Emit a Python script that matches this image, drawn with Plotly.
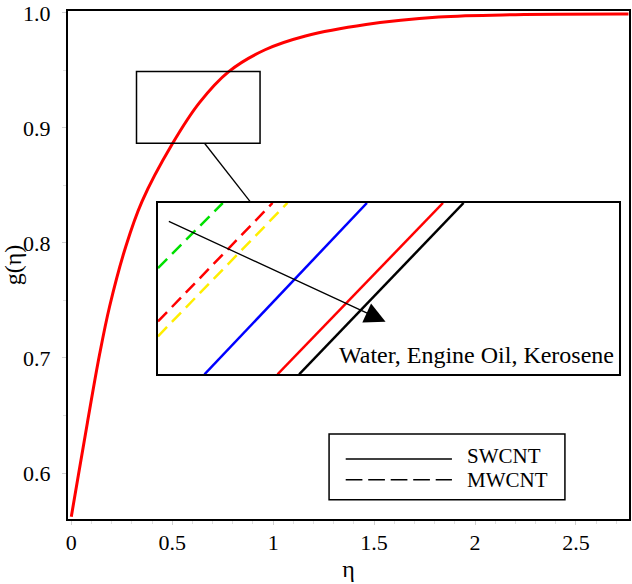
import plotly.graph_objects as go

# ---- main curve g(eta) ----
eta = [0.0, 0.035, 0.08, 0.14, 0.19, 0.27, 0.35, 0.50, 0.635, 0.78, 0.96, 1.16, 1.46, 1.82, 2.2, 2.76]
g = [0.562, 0.598, 0.644, 0.703, 0.745, 0.797, 0.836, 0.886, 0.922, 0.949, 0.968, 0.980, 0.990, 0.9965, 0.9985, 0.999]

# ---- inset (magnified view), normalised inset coordinates ----
inset_names = ["SWCNT-Water", "SWCNT-Engine Oil", "SWCNT-Kerosene",
               "MWCNT-Water", "MWCNT-Engine Oil", "MWCNT-Kerosene"]
inset_x = [[0.1009, 0.4532], [0.2593, 0.6181], [0.3062, 0.6628],
           [0.0, 0.1405], [0.0, 0.2485], [0.0, 0.2807]]
inset_y = [[0.0, 1.0], [0.0, 1.0], [0.0, 1.0],
           [0.6205, 1.0], [0.309, 1.0], [0.222, 1.0]]
inset_colors = ["blue", "red", "black", "#00e000", "red", "#ffee00"]
inset_dash = ["solid", "solid", "solid", "13px,7px", "13px,7px", "13px,7px"]

# zoom rectangle on main axes
zoom_box_x = [0.323, 0.935]
zoom_box_y = [0.8867, 0.949]
connector_x = [0.660, 0.890]
connector_y = [0.8867, 0.835]

# arrow in inset coords (tail -> head)
arrow_tail = [0.0203, 0.8967]
arrow_head = [0.4936, 0.3071]

x_ticks = [0, 0.5, 1, 1.5, 2, 2.5]
x_tick_text = ["0", "0.5", "1", "1.5", "2", "2.5"]
y_ticks = [0.6, 0.7, 0.8, 0.9, 1.0]
y_tick_text = ["0.6", "0.7", "0.8", "0.9", "1.0"]

FONT = "Liberation Serif, Times New Roman, serif"

fig = go.Figure()
fig.add_trace(go.Scatter(x=eta, y=g, mode="lines",
                         line=dict(color="red", width=3, shape="spline", smoothing=1.0),
                         showlegend=False, name="g(η)"))

for nm, xs, ys, c, d in zip(inset_names, inset_x, inset_y, inset_colors, inset_dash):
    fig.add_trace(go.Scatter(x=xs, y=ys, mode="lines", line=dict(color=c, width=2.5, dash=d),
                             xaxis="x2", yaxis="y2", showlegend=False, name=nm))

W, H = 632, 584
ml, mr, mt, mb = 68, 1, 11, 65
pw, ph = W - ml - mr, H - mt - mb

def px(xp):
    return (xp - ml) / pw

def py(yp):
    return (H - mb - yp) / ph

fig.update_layout(
    width=W, height=H,
    margin=dict(l=ml, r=mr, t=mt, b=mb, pad=0),
    paper_bgcolor="white", plot_bgcolor="white",
    font=dict(family=FONT, size=22, color="black"),
    xaxis=dict(range=[-0.0163, 2.7626], tickvals=x_ticks, ticktext=x_tick_text,
               tickfont=dict(family=FONT, size=22, color="black"),
               showline=True, linecolor="black", linewidth=2, mirror=True,
               ticks="outside", ticklen=4, tickcolor="#d0d0d0", tickwidth=1,
               minor=dict(dtick=0.1, ticks="outside", ticklen=3, tickcolor="#e0e0e0", tickwidth=1),
               showgrid=False, zeroline=False, ticklabelstandoff=-1,
               title=dict(text="η", font=dict(size=24, family=FONT), standoff=6)),
    yaxis=dict(range=[0.56, 1.0017], tickvals=y_ticks, ticktext=y_tick_text,
               tickfont=dict(family=FONT, size=22, color="black"),
               showline=True, linecolor="black", linewidth=2, mirror=True,
               ticks="outside", ticklen=4, tickcolor="#d0d0d0", tickwidth=1,
               minor=dict(dtick=0.05, ticks="outside", ticklen=3, tickcolor="#e0e0e0", tickwidth=1),
               showgrid=False, zeroline=False, ticklabelstandoff=7,
               title=dict(text="g(η)", font=dict(size=24, family=FONT), standoff=4)),
    xaxis2=dict(domain=[px(158.3), px(621)], range=[0, 1], anchor="y2",
                showline=True, linecolor="black", linewidth=1.5, mirror=True,
                showticklabels=False, ticks="", showgrid=False, zeroline=False),
    yaxis2=dict(domain=[py(374.3), py(203)], range=[0, 1], anchor="x2",
                showline=True, linecolor="black", linewidth=1.5, mirror=True,
                showticklabels=False, ticks="", showgrid=False, zeroline=False),
)

# zoom rectangle and connector line
fig.add_shape(type="rect", xref="x", yref="y", x0=zoom_box_x[0], x1=zoom_box_x[1],
              y0=zoom_box_y[0], y1=zoom_box_y[1], line=dict(color="black", width=1.5))
fig.add_shape(type="line", xref="x", yref="y", x0=connector_x[0], y0=connector_y[0],
              x1=connector_x[1], y1=connector_y[1], line=dict(color="black", width=1.3))

# arrow
fig.add_annotation(x=arrow_head[0], y=arrow_head[1], ax=arrow_tail[0], ay=arrow_tail[1],
                   xref="x2", yref="y2", axref="x2", ayref="y2", text="", showarrow=True,
                   arrowhead=2, arrowsize=3.2, arrowwidth=1.3, arrowcolor="black")
fig.add_annotation(x=0.993, y=0.11, xref="x2", yref="y2", text="Water, Engine Oil, Kerosene",
                   showarrow=False, xanchor="right", yanchor="middle",
                   font=dict(family=FONT, size=24, color="black"))

# legend box (drawn)
fig.add_shape(type="rect", xref="paper", yref="paper", x0=px(330), x1=px(566.7), y0=py(499.7), y1=py(434),
              line=dict(color="black", width=1.5), fillcolor="white", layer="above")
fig.add_shape(type="line", xref="paper", yref="paper", x0=px(346.7), x1=px(453.3), y0=py(459), y1=py(459),
              line=dict(color="black", width=1.5))
fig.add_shape(type="line", xref="paper", yref="paper", x0=px(346.7), x1=px(453.3), y0=py(479.7), y1=py(479.7),
              line=dict(color="black", width=1.5, dash="16.7px,5.8px"))
fig.add_annotation(x=px(467.5), y=py(455.5), xref="paper", yref="paper", text="SWCNT", showarrow=False,
                   xanchor="left", yanchor="middle", borderpad=0,
                   font=dict(family=FONT, size=21, color="black"))
fig.add_annotation(x=px(467.5), y=py(479.5), xref="paper", yref="paper", text="MWCNT", showarrow=False,
                   xanchor="left", yanchor="middle", borderpad=0,
                   font=dict(family=FONT, size=21, color="black"))

fig.write_html("out.html")
